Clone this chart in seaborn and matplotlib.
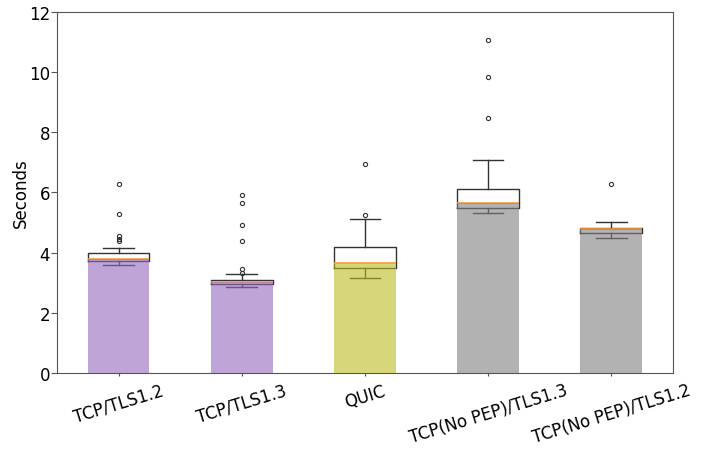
import matplotlib
matplotlib.use("Agg")
import matplotlib.pyplot as plt
import seaborn as sns

# Protocol configurations
categories = ["TCP/TLS1.2", "TCP/TLS1.3", "QUIC", "TCP(No PEP)/TLS1.3", "TCP(No PEP)/TLS1.2"]
bar_colors = ["tab:purple", "tab:purple", "tab:olive", "tab:gray", "tab:gray"]

# Box statistics (seconds)
medians = [3.79, 3.01, 3.65, 5.64, 4.77]
q1 = [3.72, 2.96, 3.48, 5.47, 4.66]
q3 = [3.98, 3.08, 4.17, 6.13, 4.83]
whisker_low = [3.57, 2.85, 3.15, 5.32, 4.48]
whisker_high = [4.14, 3.28, 5.11, 7.09, 5.03]
fliers = [
    [6.29, 5.27, 4.54, 4.45, 4.37],
    [5.93, 5.65, 4.93, 4.40, 3.47, 3.31],
    [6.96, 5.24],
    [11.08, 9.85, 8.47],
    [6.28],
]

fig, ax = plt.subplots(figsize=(7.12, 4.52), dpi=100)
fig.subplots_adjust(left=0.080, right=0.945, top=0.971, bottom=0.173)

stats = [
    dict(med=m, q1=a, q3=b, whislo=lo, whishi=hi, fliers=f)
    for m, a, b, lo, hi, f in zip(medians, q1, q3, whisker_low, whisker_high, fliers)
]
ax.bxp(
    stats,
    positions=range(len(categories)),
    widths=0.5,
    showfliers=True,
    boxprops=dict(color="#333333", linewidth=1.0),
    whiskerprops=dict(color="#333333", linewidth=1.0),
    capprops=dict(color="#333333", linewidth=1.0),
    medianprops=dict(color="#ff9e3d", linewidth=1.2),
    flierprops=dict(marker="o", markersize=3, markerfacecolor="none",
                    markeredgecolor="#333333", markeredgewidth=0.8),
    manage_ticks=False,
    zorder=2,
)

sns.barplot(
    x=categories, y=medians, hue=categories, palette=bar_colors,
    saturation=1, alpha=0.6, width=0.5, errorbar=None, legend=False,
    ax=ax, zorder=3,
)

ax.set_xlim(-0.5, len(categories) - 0.5)
ax.set_ylim(0, 12)
ax.set_yticks(range(0, 13, 2))
ax.set_ylabel("Seconds", fontsize=12, labelpad=-1)
ax.set_xlabel("")
ax.tick_params(axis="y", labelsize=12, pad=1, length=4, color="#555555")
ax.tick_params(axis="x", labelsize=12, pad=4, length=2, color="#555555")
plt.setp(ax.get_xticklabels(), rotation=17, ha="center")
for s in ax.spines.values():
    s.set_color("#555555")
    s.set_linewidth(0.8)

fig.savefig("out.png", dpi=100)
